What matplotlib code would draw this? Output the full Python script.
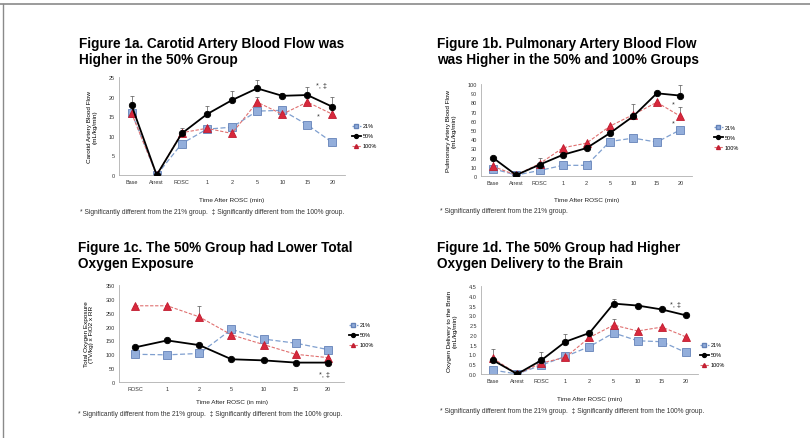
import matplotlib
matplotlib.use("Agg")
import matplotlib.pyplot as plt
from matplotlib.lines import Line2D

plt.rcParams["font.family"] = ["Liberation Sans", "DejaVu Sans"]

W, H = 810, 439

# categories
times_full = ["Base", "Arrest", "ROSC", "1", "2", "5", "10", "15", "20"]
times_rosc = ["ROSC", "1", "2", "5", "10", "15", "20"]
groups = ["21%", "50%", "100%"]

# Fig 1a - carotid artery blood flow (mL/kg/min)
carotid_21 = [15.9, 0.0, 8.0, 11.7, 12.2, 16.3, 16.5, 12.8, 8.3]
carotid_50 = [17.8, 0.0, 10.6, 15.5, 19.1, 22.1, 20.2, 20.4, 17.4]
carotid_100 = [15.8, 0.0, 10.8, 11.9, 10.6, 18.6, 15.5, 18.6, 15.5]
carotid_err_50 = [2.4, 0.0, 1.5, 2.0, 2.3, 2.1, 0.8, 2.0, 2.4]
carotid_err_100 = [0.0, 0.0, 0.0, 0.0, 0.0, 1.2, 0.0, 0.0, 0.0]

# Fig 1b - pulmonary artery blood flow (mL/kg/min)
pulm_21 = [8.0, 1.0, 6.0, 11.6, 11.6, 37.5, 41.2, 36.8, 50.2]
pulm_50 = [20.0, 1.0, 12.3, 23.1, 30.3, 46.6, 65.0, 89.9, 87.4]
pulm_100 = [10.5, 1.0, 13.4, 30.7, 35.7, 54.2, 66.8, 80.1, 65.0]
pulm_err_50 = [0.0, 4.0, 7.0, 0.0, 0.0, 0.0, 0.0, 0.0, 11.0]
pulm_err_100 = [10.0, 0.0, 0.0, 0.0, 0.0, 0.0, 12.0, 0.0, 10.0]

# Fig 1c - total oxygen exposure, (TV/kg) x FiO2 x RR
exposure_21 = [100, 98, 103, 190, 155, 140, 117]
exposure_50 = [125, 150, 133, 82, 78, 70, 70]
exposure_100 = [275, 275, 235, 170, 135, 100, 88]
exposure_err_100 = [0, 0, 40, 0, 0, 0, 0]

# Fig 1d - oxygen delivery to the brain (mL/kg/min)
delivery_21 = [0.2, 0.0, 0.45, 0.9, 1.4, 2.1, 1.7, 1.65, 1.1]
delivery_50 = [0.7, 0.0, 0.7, 1.65, 2.1, 3.6, 3.5, 3.3, 3.0]
delivery_100 = [0.8, 0.0, 0.56, 0.85, 1.87, 2.5, 2.2, 2.4, 1.9]
delivery_err_50 = [0.6, 0.2, 0.4, 0.4, 0.0, 0.25, 0.0, 0.0, 0.0]
delivery_err_100 = [0.0, 0.0, 0.0, 0.0, 0.0, 0.3, 0.0, 0.0, 0.0]

STYLE = {
    "21%": dict(color="#7f9fcf", ls=(0, (4, 2)), lw=0.9, marker="s", ms=5.2,
                mfc="#93aedb", mec="#6482b8"),
    "50%": dict(color="black", ls="-", lw=1.3, marker="o", ms=4.6,
                mfc="black", mec="black"),
    "100%": dict(color="#e07070", ls=(0, (3, 1.5)), lw=0.8, marker="^", ms=5.2,
                 mfc="#d8283c", mec="#c01c30"),
}

TICK_FS = 4.0
LABEL_FS = 4.6
TITLE_FS = 9.8
FOOT_FS = 4.8


def px_axes(fig, left, top, right, bottom):
    return fig.add_axes([left / W, 1 - bottom / H, (right - left) / W, (bottom - top) / H])


def draw_panel(fig, box, cats, series, errs, ylim, yticks, ytickfmt, ylabel,
               title, title_xy, xlabel, xlabel_y, footnote, foot_xy, legend_xy,
               marks):
    ax = px_axes(fig, *box)
    x = list(range(len(cats)))
    for name in ["21%", "100%", "50%"]:
        st = STYLE[name]
        ax.plot(x, series[name], color=st["color"], ls=st["ls"], lw=st["lw"],
                marker=st["marker"], ms=st["ms"], mfc=st["mfc"], mec=st["mec"],
                mew=0.6, zorder=3 if name == "50%" else 2, label=name)
        if name in errs:
            upper = errs[name]
            lower = [0] * len(upper)
            ax.errorbar(x, series[name], yerr=[lower, upper], fmt="none",
                        ecolor="#555555", elinewidth=0.5, capsize=1.2,
                        capthick=0.5, zorder=1)
    ax.set_xlim(-0.5, len(cats) - 0.5)
    ax.set_ylim(*ylim)
    ax.set_yticks(yticks)
    ax.set_yticklabels([ytickfmt.format(v) for v in yticks])
    ax.set_xticks(x)
    ax.set_xticklabels(cats)
    ax.tick_params(labelsize=TICK_FS, length=0, pad=3, colors="#333333")
    for side in ["top", "right"]:
        ax.spines[side].set_visible(False)
    for side in ["left", "bottom"]:
        ax.spines[side].set_color("#b0b0b0")
        ax.spines[side].set_linewidth(0.6)
    ax.set_ylabel(ylabel, fontsize=LABEL_FS, labelpad=8, linespacing=1.1)
    ax.patch.set_alpha(0)

    fig.text(title_xy[0] / W, 1 - title_xy[1] / H, title, fontsize=TITLE_FS,
             fontweight="bold", va="top", ha="left", linespacing=1.22)
    cx = (box[0] + box[2]) / 2
    fig.text(cx / W, 1 - xlabel_y / H, xlabel, fontsize=LABEL_FS, ha="center",
             va="center", color="#222222")
    fig.text(foot_xy[0] / W, 1 - foot_xy[1] / H, footnote, fontsize=FOOT_FS,
             ha="left", va="center", color="#333333")

    handles = [Line2D([], [], color=STYLE[g]["color"], ls=STYLE[g]["ls"],
                      lw=STYLE[g]["lw"], marker=STYLE[g]["marker"], ms=2.8,
                      mfc=STYLE[g]["mfc"], mec=STYLE[g]["mec"]) for g in groups]
    fig.legend(handles, groups, loc="center left",
               bbox_to_anchor=(legend_xy[0] / W, 1 - legend_xy[1] / H),
               frameon=False, fontsize=TICK_FS, handlelength=1.6,
               handletextpad=0.4, labelspacing=0.9, borderpad=0)
    for (xi, yv, txt) in marks:
        ax.text(xi, yv, txt, fontsize=5.2, ha="center", va="center",
                color="#333333")
    return ax


fig = plt.figure(figsize=(W / 100, H / 100), dpi=100)
fig.patch.set_facecolor("white")

foot_both = ("* Significantly different from the 21% group.  "
             "\u2021 Significantly different from the 100% group.")

draw_panel(
    fig, (119, 78, 345, 176), times_full,
    {"21%": carotid_21, "50%": carotid_50, "100%": carotid_100},
    {"50%": carotid_err_50, "100%": carotid_err_100},
    (0, 25), [0, 5, 10, 15, 20, 25], "{:g}",
    "Carotid Artery Blood Flow\n(mL/kg/min)",
    "Figure 1a. Carotid Artery Blood Flow was\nHigher in the 50% Group",
    (79, 37), "Time After ROSC (min)", 201, foot_both, (80, 213),
    (349, 137), [(7.55, 22.8, "*, \u2021"), (7.45, 15.0, "*")],
)

draw_panel(
    fig, (481, 85, 692, 177), times_full,
    {"21%": pulm_21, "50%": pulm_50, "100%": pulm_100},
    {"50%": pulm_err_50, "100%": pulm_err_100},
    (0, 100), list(range(0, 101, 10)), "{:g}",
    "Pulmonary Artery Blood Flow\n(mL/kg/min)",
    "Figure 1b. Pulmonary Artery Blood Flow\nwas Higher in the 50% and 100% Groups",
    (437, 37), "Time After ROSC (min)", 201,
    "* Significantly different from the 21% group.", (440, 212),
    (711, 138), [(7.7, 78, "*"), (7.7, 58, "*")],
)

draw_panel(
    fig, (119, 286, 344, 383), times_rosc,
    {"21%": exposure_21, "50%": exposure_50, "100%": exposure_100},
    {"100%": exposure_err_100},
    (0, 350), list(range(0, 351, 50)), "{:g}",
    "Total Oxygen Exposure\n(TV/kg) x FiO2 x RR",
    "Figure 1c. The 50% Group had Lower Total\nOxygen Exposure",
    (78, 241), "Time After ROSC (in min)", 403, foot_both, (78, 415),
    (346, 336), [(5.9, 28, "*, \u2021")],
)

draw_panel(
    fig, (481, 287, 698, 375), times_full,
    {"21%": delivery_21, "50%": delivery_50, "100%": delivery_100},
    {"50%": delivery_err_50, "100%": delivery_err_100},
    (0, 4.5), [0, 0.5, 1, 1.5, 2, 2.5, 3, 3.5, 4, 4.5], "{:.1f}",
    "Oxygen Delivery to the Brain\n(mL/kg/min)",
    "Figure 1d. The 50% Group had Higher\nOxygen Delivery to the Brain",
    (437, 241), "Time After ROSC (min)", 400, foot_both, (440, 412),
    (697, 356), [(7.55, 3.55, "*, \u2021")],
)

# frame lines along the top and left edge
fig.add_artist(Line2D([0, 1], [1 - 5 / H, 1 - 5 / H], transform=fig.transFigure,
                      color="#8a8a8a", lw=1.2))
fig.add_artist(Line2D([3.5 / W, 3.5 / W], [0, 1 - 5 / H], transform=fig.transFigure,
                      color="#8a8a8a", lw=1.0))

fig.savefig("out.png", dpi=100)
